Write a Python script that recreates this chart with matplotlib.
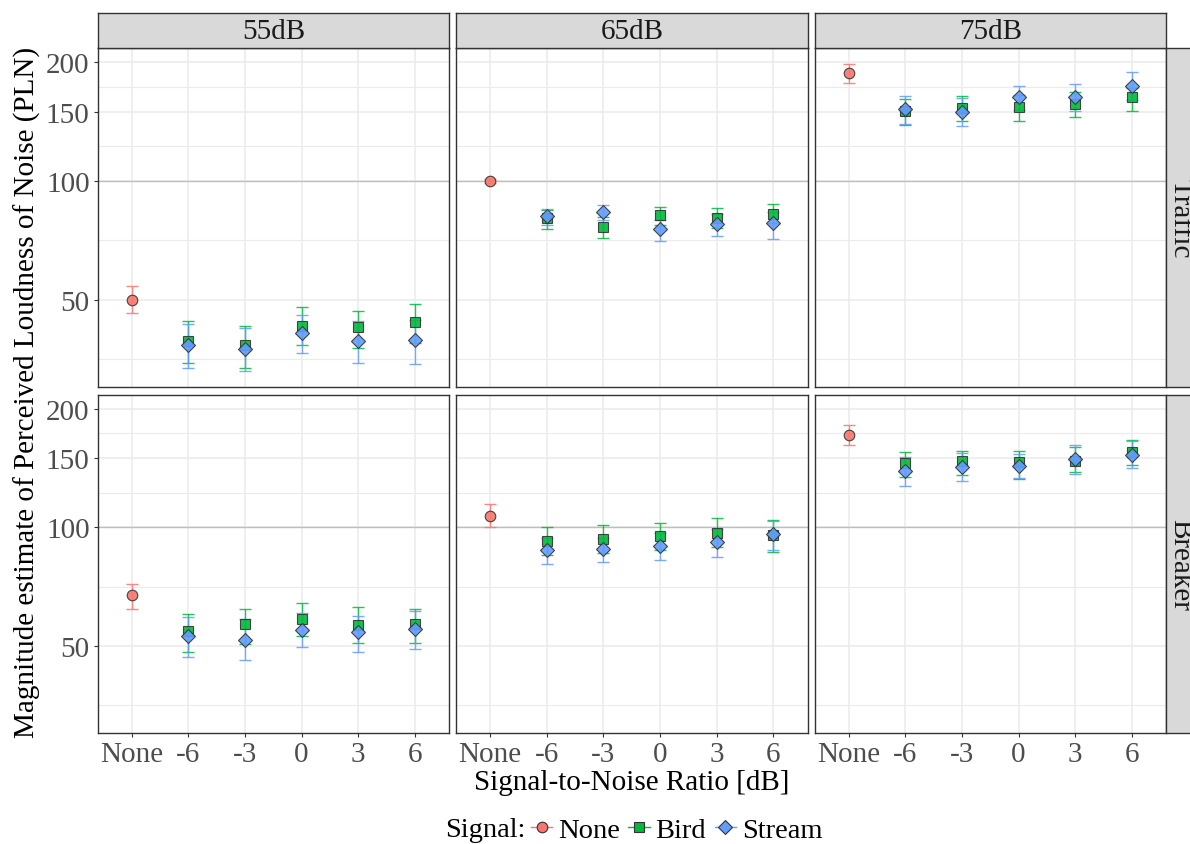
import numpy as np
import matplotlib
matplotlib.use("Agg")
import matplotlib.pyplot as plt
from matplotlib.lines import Line2D
from matplotlib.patches import Rectangle
from matplotlib.ticker import NullLocator

plt.rcParams['font.family'] = ['Liberation Serif', 'DejaVu Serif']

# ---------------- data ----------------
levels = ['55dB', '65dB', '75dB']
noises = ['Traffic', 'Breaker']
x_labels = ['None', '-6', '-3', '0', '3', '6']
snr_labels = ['-6', '-3', '0', '3', '6']
y_ticks = [50, 100, 150, 200]

none_traffic_mean = [50.0, 100.0, 187.4]
none_traffic_lo = [46.2, 99.0, 177.1]
none_traffic_hi = [54.1, 101.0, 197.9]
none_breaker_mean = [67.2, 106.9, 171.7]
none_breaker_lo = [61.9, 100.4, 161.9]
none_breaker_hi = [71.9, 114.4, 181.7]

bird_traffic_55_mean = [39.3, 38.4, 42.9, 42.5, 43.8]
bird_traffic_55_lo = [34.5, 33.5, 38.4, 37.7, 38.8]
bird_traffic_55_hi = [44.1, 42.9, 47.8, 46.9, 48.8]
stream_traffic_55_mean = [38.4, 37.5, 41.1, 39.3, 39.5]
stream_traffic_55_lo = [33.5, 32.9, 36.7, 34.5, 34.3]
stream_traffic_55_hi = [43.4, 42.3, 45.8, 44.1, 44.5]

bird_traffic_65_mean = [80.7, 76.4, 81.8, 80.5, 82.6]
bird_traffic_65_lo = [75.6, 71.6, 77.1, 75.9, 78.3]
bird_traffic_65_hi = [84.5, 81.0, 85.7, 85.2, 87.6]
stream_traffic_65_mean = [81.5, 83.4, 75.6, 77.6, 78.2]
stream_traffic_65_lo = [77.1, 79.7, 70.6, 72.5, 71.3]
stream_traffic_65_hi = [85.0, 87.0, 79.4, 82.6, 83.4]

bird_traffic_75_mean = [150.3, 153.3, 154.2, 157.0, 163.2]
bird_traffic_75_lo = [139.0, 141.8, 142.1, 144.9, 150.3]
bird_traffic_75_hi = [161.3, 163.8, 165.6, 168.4, 172.0]
stream_traffic_75_mean = [151.8, 149.8, 162.9, 162.9, 174.0]
stream_traffic_75_lo = [139.6, 137.7, 151.0, 150.3, 160.0]
stream_traffic_75_hi = [164.1, 161.9, 174.4, 175.7, 188.5]

bird_breaker_55_mean = [54.4, 56.7, 58.6, 56.6, 56.9]
bird_breaker_55_lo = [48.4, 50.7, 52.9, 50.9, 50.9]
bird_breaker_55_hi = [60.2, 62.2, 64.4, 62.6, 62.2]
stream_breaker_55_mean = [52.9, 51.9, 55.0, 54.2, 55.3]
stream_breaker_55_lo = [46.9, 46.0, 49.7, 48.4, 49.0]
stream_breaker_55_hi = [59.2, 58.4, 60.7, 59.5, 61.4]

bird_breaker_65_mean = [92.3, 93.6, 95.1, 96.9, 95.6]
bird_breaker_65_lo = [84.9, 86.2, 87.4, 89.1, 86.7]
bird_breaker_65_hi = [100.4, 101.2, 102.8, 105.6, 104.4]
stream_breaker_65_mean = [87.4, 87.9, 89.6, 92.0, 96.0]
stream_breaker_65_lo = [80.5, 81.6, 82.6, 84.2, 87.5]
stream_breaker_65_hi = [94.1, 94.0, 96.5, 98.8, 103.8]

bird_breaker_75_mean = [145.5, 147.5, 146.6, 147.5, 154.8]
bird_breaker_75_lo = [133.8, 135.6, 132.5, 137.8, 143.5]
bird_breaker_75_hi = [154.8, 156.0, 156.0, 159.5, 166.7]
stream_breaker_75_mean = [139.0, 141.8, 143.2, 148.9, 152.7]
stream_breaker_75_lo = [126.9, 130.9, 133.5, 136.6, 141.0]
stream_breaker_75_hi = [150.4, 154.2, 153.4, 161.9, 165.5]

none_data = {
    'Traffic': (none_traffic_mean, none_traffic_lo, none_traffic_hi),
    'Breaker': (none_breaker_mean, none_breaker_lo, none_breaker_hi),
}
bird_data = {
    ('Traffic', 0): (bird_traffic_55_mean, bird_traffic_55_lo, bird_traffic_55_hi),
    ('Traffic', 1): (bird_traffic_65_mean, bird_traffic_65_lo, bird_traffic_65_hi),
    ('Traffic', 2): (bird_traffic_75_mean, bird_traffic_75_lo, bird_traffic_75_hi),
    ('Breaker', 0): (bird_breaker_55_mean, bird_breaker_55_lo, bird_breaker_55_hi),
    ('Breaker', 1): (bird_breaker_65_mean, bird_breaker_65_lo, bird_breaker_65_hi),
    ('Breaker', 2): (bird_breaker_75_mean, bird_breaker_75_lo, bird_breaker_75_hi),
}
stream_data = {
    ('Traffic', 0): (stream_traffic_55_mean, stream_traffic_55_lo, stream_traffic_55_hi),
    ('Traffic', 1): (stream_traffic_65_mean, stream_traffic_65_lo, stream_traffic_65_hi),
    ('Traffic', 2): (stream_traffic_75_mean, stream_traffic_75_lo, stream_traffic_75_hi),
    ('Breaker', 0): (stream_breaker_55_mean, stream_breaker_55_lo, stream_breaker_55_hi),
    ('Breaker', 1): (stream_breaker_65_mean, stream_breaker_65_lo, stream_breaker_65_hi),
    ('Breaker', 2): (stream_breaker_75_mean, stream_breaker_75_lo, stream_breaker_75_hi),
}

# ---------------- style ----------------
C_NONE, C_BIRD, C_STREAM = '#F8766D', '#00BA38', '#619CFF'
EDGE = '#333333'
GRID = '#EBEBEB'
TICK_C = '#4D4D4D'
FS = 21

W, H = 1190, 845
fig = plt.figure(figsize=(W / 100, H / 100), dpi=100)

col_left = [97.5, 456.0, 814.5]
panel_w = 351.5
row_top = [49.3, 395.6]
panel_h = 338.8
strip_top = 14.0


def fr(x, y, w, h):
    return [x / W, 1 - (y + h) / H, w / W, h / H]


xpos_all = np.arange(1, len(x_labels) + 1)
ylim = (30.0, 217.0)
minor_vals = [np.sqrt(25 * 50)] + [np.sqrt(a * b) for a, b in zip(y_ticks[:-1], y_ticks[1:])]

for r, noise in enumerate(noises):
    for c, lev in enumerate(levels):
        ax = fig.add_axes(fr(col_left[c], row_top[r], panel_w, panel_h))
        ax.set_yscale('log')
        ax.set_ylim(*ylim)
        ax.set_xlim(0.4, 6.6)
        ax.set_facecolor('white')
        # grid
        for v in minor_vals:
            ax.axhline(v, color=GRID, lw=0.8, zorder=0.5)
        for v in y_ticks:
            ax.axhline(v, color=GRID, lw=1.1, zorder=0.6)
        for xv in xpos_all:
            ax.axvline(xv, color=GRID, lw=1.1, zorder=0.6)
        ax.axhline(100, color='#BEBEBE', lw=1.0, zorder=0.8)

        # error bars
        nm, nl, nh = none_data[noise]
        ax.errorbar([xpos_all[0]], [nm[c]], yerr=[[nm[c] - nl[c]], [nh[c] - nm[c]]],
                    fmt='none', ecolor=C_NONE, elinewidth=1.0, capsize=4.5, capthick=1.0,
                    alpha=0.85, zorder=2)
        for data, col in ((bird_data, C_BIRD), (stream_data, C_STREAM)):
            m, lo, hi = data[(noise, c)]
            m = np.array(m); lo = np.array(lo); hi = np.array(hi)
            ax.errorbar(xpos_all[1:], m, yerr=[m - lo, hi - m], fmt='none', ecolor=col,
                        elinewidth=1.0, capsize=4.5, capthick=1.0, alpha=0.85, zorder=2)
        # points
        ax.plot([xpos_all[0]], [nm[c]], ls='none', marker='o', ms=7.6, mfc=C_NONE,
                mec=EDGE, mew=0.8, alpha=0.9, zorder=3)
        m = bird_data[(noise, c)][0]
        ax.plot(xpos_all[1:], m, ls='none', marker='s', ms=7.4, mfc=C_BIRD,
                mec=EDGE, mew=0.8, alpha=0.9, zorder=3)
        m = stream_data[(noise, c)][0]
        ax.plot(xpos_all[1:], m, ls='none', marker='D', ms=7.4, mfc=C_STREAM,
                mec=EDGE, mew=0.8, alpha=0.9, zorder=4)

        ax.yaxis.set_minor_locator(NullLocator())
        ax.set_yticks(y_ticks)
        ax.set_xticks(xpos_all)
        if c == 0:
            ax.set_yticklabels([str(v) for v in y_ticks])
        else:
            ax.set_yticklabels([])
        if r == 1:
            ax.set_xticklabels(x_labels)
        else:
            ax.set_xticklabels([])
        ax.tick_params(axis='both', which='major', labelsize=FS, labelcolor=TICK_C,
                       color=EDGE, width=0.8, length=3.2, pad=2.5)
        if c != 0:
            ax.tick_params(axis='y', length=0)
        if r != 1:
            ax.tick_params(axis='x', length=0)
        for sp in ax.spines.values():
            sp.set_color(EDGE)
            sp.set_linewidth(1.0)
            sp.set_zorder(5)

        # top strip
        if r == 0:
            sax = fig.add_axes(fr(col_left[c], strip_top, panel_w, row_top[0] - strip_top))
            sax.set_facecolor('#D9D9D9')
            sax.set_xticks([]); sax.set_yticks([])
            for sp in sax.spines.values():
                sp.set_color(EDGE); sp.set_linewidth(1.0)
            sax.text(0.5, 0.5, lev, ha='center', va='center', fontsize=FS,
                     color='#1A1A1A', transform=sax.transAxes)
        # right strip (cut off by the figure edge, as in the reference)
        if c == 2:
            x0 = col_left[2] + panel_w
            sw = row_top[0] - strip_top
            fig.patches.append(Rectangle((x0 / W, 1 - (row_top[r] + panel_h) / H), sw / W,
                                         panel_h / H, transform=fig.transFigure,
                                         facecolor='#D9D9D9', edgecolor=EDGE, lw=1.0))
            fig.text((x0 + 14.5) / W, 1 - (row_top[r] + panel_h / 2) / H, noise,
                     rotation=-90, ha='center', va='center', fontsize=FS, color='#1A1A1A')

# axis titles
fig.text(27 / W, 1 - 392 / H, 'Magnitude estimate of Perceived Loudness of Noise (PLN)',
         rotation=90, ha='center', va='center', fontsize=FS, color='black')
fig.text(631.5 / W, 1 - 783 / H, 'Signal-to-Noise Ratio [dB]', ha='center', va='center',
         fontsize=FS, color='black')

# legend
LFS = 20.5
fig.text(445 / W, 1 - 831 / H, 'Signal:', ha='left', va='center', fontsize=LFS, color='black')
handles = [
    Line2D([0], [0], color=C_NONE, marker='o', ms=7.6, mfc=C_NONE, mec=EDGE, mew=0.8, lw=1.0),
    Line2D([0], [0], color=C_BIRD, marker='s', ms=7.4, mfc=C_BIRD, mec=EDGE, mew=0.8, lw=1.0),
    Line2D([0], [0], color=C_STREAM, marker='D', ms=7.4, mfc=C_STREAM, mec=EDGE, mew=0.8, lw=1.0),
]
fig.legend(handles, ['None', 'Bird', 'Stream'], loc='center left',
           bbox_to_anchor=(531 / W, 1 - 831 / H), ncol=3, frameon=False, fontsize=LFS,
           handlelength=0.75, handletextpad=0.2, columnspacing=0.3, borderpad=0,
           borderaxespad=0)

fig.savefig('out.png', dpi=100)
